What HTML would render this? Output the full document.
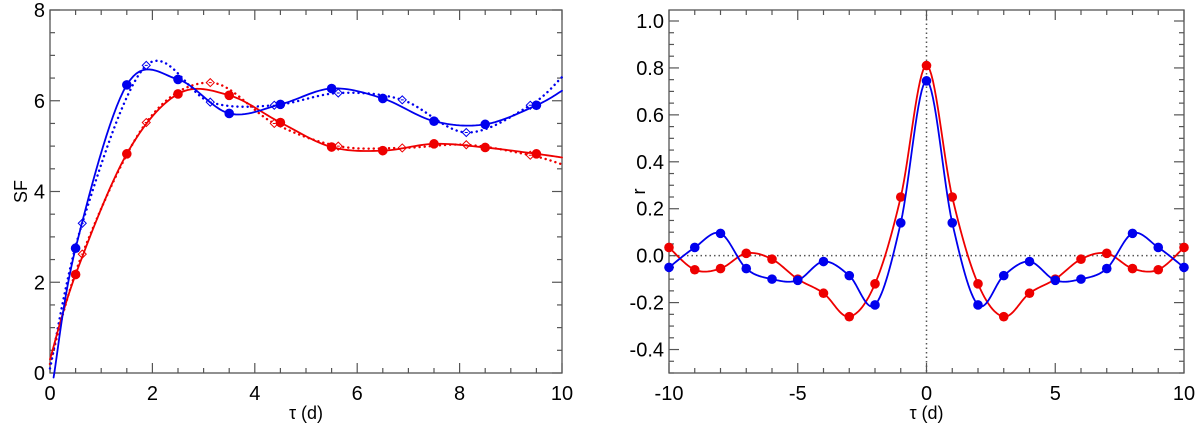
<!DOCTYPE html>
<html><head><meta charset="utf-8"><style>
html,body{margin:0;padding:0;background:#fff;}
svg{display:block;font-family:"Liberation Sans",sans-serif;}
</style></head><body>
<svg id="chart" width="1200" height="426" viewBox="0 0 1200 426"></svg>
<script>
// ---- Left panel data (SF) ----
const sfBlueX=[0.5,1.5,2.5,3.5,4.5,5.5,6.5,7.5,8.5,9.5];
const sfBlueY=[2.75,6.35,6.47,5.72,5.92,6.27,6.05,5.55,5.48,5.9];
const sfBlueOpenX=[0.63,1.88,3.13,4.38,5.63,6.88,8.13,9.38];
const sfBlueOpenY=[3.3,6.78,5.97,5.9,6.17,6.02,5.3,5.9];
const sfRedX=[0.5,1.5,2.5,3.5,4.5,5.5,6.5,7.5,8.5,9.5];
const sfRedY=[2.17,4.83,6.15,6.12,5.52,4.98,4.9,5.05,4.97,4.83];
const sfRedOpenX=[0.63,1.88,3.13,4.38,5.63,6.88,8.13,9.38];
const sfRedOpenY=[2.62,5.52,6.4,5.5,5.0,4.96,5.03,4.8];
const sfBlueEnds=[[0.07,-0.1],[10,6.22]];
const sfBlueOpenEnds=[[0.0,0.1],[10,6.52]];
const sfRedEnds=[[0,0.3],[10,4.75]];
const sfRedOpenEnds=[[0,0.2],[10,4.6]];
const sfXTicks=[0,2,4,6,8,10];
const sfYTicks=[0,2,4,6,8];
// ---- Right panel data (r) ----
const lags=[-10,-9,-8,-7,-6,-5,-4,-3,-2,-1,0,1,2,3,4,5,6,7,8,9,10];
const rRed=[0.035,-0.06,-0.055,0.01,-0.015,-0.1,-0.16,-0.26,-0.12,0.25,0.81,0.25,-0.12,-0.26,-0.16,-0.1,-0.015,0.01,-0.055,-0.06,0.035];
const rBlue=[-0.05,0.035,0.095,-0.055,-0.1,-0.105,-0.025,-0.085,-0.21,0.14,0.745,0.14,-0.21,-0.085,-0.025,-0.105,-0.1,-0.055,0.095,0.035,-0.05];
const rXTicks=[-10,-5,0,5,10];
const rYTicks=["-0.4","-0.2","0.0","0.2","0.4","0.6","0.8","1.0"];

const svg=document.getElementById('chart');
const NS='http://www.w3.org/2000/svg';
function mk(tag,attrs,parent){const e=document.createElementNS(NS,tag);for(const k in attrs)e.setAttribute(k,attrs[k]);(parent||svg).appendChild(e);return e;}
const BLUE='#0000ee',RED='#ee0000',AX='#555';

function spline(pts,sx,sy){
  let d='';
  for(let i=0;i<pts.length-1;i++){
    const p0=pts[Math.max(0,i-1)],p1=pts[i],p2=pts[i+1],p3=pts[Math.min(pts.length-1,i+2)];
    for(let s=0;s<=16;s++){
      const t=s/16,t2=t*t,t3=t2*t;
      const f=(a,b,c,e)=>0.5*((2*b)+(-a+c)*t+(2*a-5*b+4*c-e)*t2+(-a+3*b-3*c+e)*t3);
      const x=f(p0[0],p1[0],p2[0],p3[0]),y=f(p0[1],p1[1],p2[1],p3[1]);
      d+=(d?'L':'M')+sx(x).toFixed(2)+','+sy(y).toFixed(2);
    }
  }
  return d;
}

function panel(name,L,R,T,B,x0,x1,y0,y1,xMinor,yMinor,xTicks,yTicks,yLabel,ylx){
  const g=mk('g',{});
  
  
  const sx=v=>L+(v-x0)/(x1-x0)*(R-L);
  const sy=v=>B-(v-y0)/(y1-y0)*(B-T);
  const fr=mk('rect',{x:L,y:T,width:R-L,height:B-T,fill:'none',stroke:AX,'stroke-width':1.3},g);
  
  
  for(let v=x0;v<=x1+1e-9;v+=xMinor){
    const major=xTicks.some(t=>Math.abs(+t-v)<1e-6);const len=major?10:5;const X=sx(v);
    mk('line',{x1:X,x2:X,y1:B,y2:B-len,stroke:AX,'stroke-width':1.2},g);
    mk('line',{x1:X,x2:X,y1:T,y2:T+len,stroke:AX,'stroke-width':1.2},g);
  }
  for(let v=Math.ceil(y0/yMinor)*yMinor;v<=y1+1e-9;v+=yMinor){
    const major=yTicks.some(t=>Math.abs(+t-v)<1e-6);const len=major?10:5;const Y=sy(v);
    mk('line',{x1:L,x2:L+len,y1:Y,y2:Y,stroke:AX,'stroke-width':1.2},g);
    mk('line',{x1:R,x2:R-len,y1:Y,y2:Y,stroke:AX,'stroke-width':1.2},g);
  }
  xTicks.forEach(t=>{const e=mk('text',{x:sx(+t),y:B+27,'text-anchor':'middle','font-size':20,fill:'#000'},g);e.textContent=t;
    });
  yTicks.forEach(t=>{const e=mk('text',{x:L-5,y:sy(+t)+7,'text-anchor':'end','font-size':20,fill:'#000'},g);e.textContent=t;
    });
  const xt=mk('text',{x:(L+R)/2,y:419,'text-anchor':'middle','font-size':18,fill:'#000'},g);xt.textContent='τ (d)';
  
  const yt=mk('text',{x:ylx,y:(T+B)/2,'text-anchor':'middle','font-size':18,fill:'#000',transform:`rotate(-90 ${ylx} ${(T+B)/2})`},g);yt.textContent=yLabel;
  
  return {g,sx,sy};
}

// Left panel
const P1=panel('sf-panel',50,562,10,373,0,10,0,8,0.5,0.5,sfXTicks,sfYTicks,'SF',27);
function sfSeries(xs,ys,ends,color,dotted,open,nm){
  const pts=[ends[0]].concat(xs.map((x,i)=>[x,ys[i]])).concat([ends[1]]);
  const p=mk('path',{d:spline(pts,P1.sx,P1.sy),fill:'none',stroke:color,'stroke-width':dotted?2.4:1.8,'stroke-dasharray':dotted?'0.1 5':'none','stroke-linecap':'round'},P1.g);
  
  xs.forEach((x,i)=>{
    const X=P1.sx(x),Y=P1.sy(ys[i]);let m;
    if(open){m=mk('path',{d:`M${X},${Y-4}L${X+4},${Y}L${X},${Y+4}L${X-4},${Y}Z M${X-1.5},${Y}h3`,fill:'#fff',stroke:color,'stroke-width':1},P1.g);}
    else{m=mk('circle',{cx:X,cy:Y,r:4.8,fill:color},P1.g);}
    
  });
}
sfSeries(sfRedOpenX,sfRedOpenY,sfRedOpenEnds,RED,true,true,'red-dotted');
sfSeries(sfBlueOpenX,sfBlueOpenY,sfBlueOpenEnds,BLUE,true,true,'blue-dotted');
sfSeries(sfRedX,sfRedY,sfRedEnds,RED,false,false,'red-solid');
sfSeries(sfBlueX,sfBlueY,sfBlueEnds,BLUE,false,false,'blue-solid');

// Right panel
const yTop=1.0+11/234.7;
const P2=panel('correlation-panel',669,1184,10,373,-10,10,-0.5,yTop,1,0.05,rXTicks,rYTicks,'r',645);
const z1=mk('line',{x1:P2.sx(-10),x2:P2.sx(10),y1:P2.sy(0),y2:P2.sy(0),stroke:'#555','stroke-width':1.5,'stroke-dasharray':'1.5 3'},P2.g);

const z2=mk('line',{x1:P2.sx(0),x2:P2.sx(0),y1:10,y2:373,stroke:'#555','stroke-width':1.5,'stroke-dasharray':'1.5 3'},P2.g);

function rSeries(vals,color,nm){
  const pts=lags.map((x,i)=>[x,vals[i]]);
  const p=mk('path',{d:spline(pts,P2.sx,P2.sy),fill:'none',stroke:color,'stroke-width':1.8},P2.g);
  
  lags.forEach((x,i)=>{const c=mk('circle',{cx:P2.sx(x),cy:P2.sy(vals[i]),r:4.8,fill:color},P2.g);
    });
}
rSeries(rRed,RED,'red');
rSeries(rBlue,BLUE,'blue');
</script>
</body></html>
